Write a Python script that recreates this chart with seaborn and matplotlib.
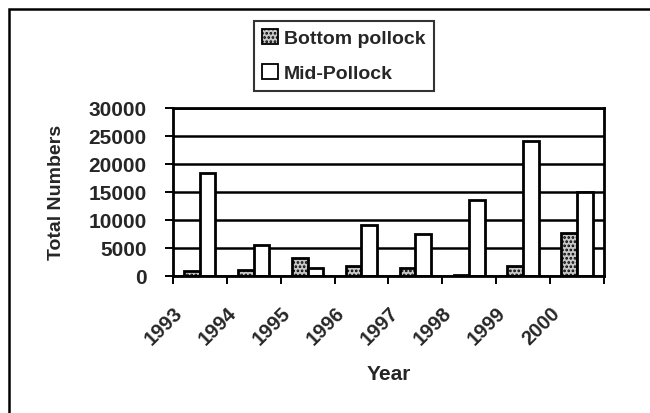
import numpy as np
import pandas as pd
import matplotlib
matplotlib.use("Agg")
import matplotlib.pyplot as plt
from matplotlib.patches import Patch, Rectangle
import seaborn as sns

years = ["1993", "1994", "1995", "1996", "1997", "1998", "1999", "2000"]
bottom_pollock = [900, 1100, 3200, 1700, 1500, 100, 1700, 7600]
mid_pollock = [18400, 5500, 1500, 9100, 7500, 13600, 24000, 14900]
series = ["Bottom pollock", "Mid-Pollock"]
y_ticks = [0, 5000, 10000, 15000, 20000, 25000, 30000]

df = pd.DataFrame({
    "Year": years * 2,
    "Total Numbers": bottom_pollock + mid_pollock,
    "Series": [series[0]] * len(years) + [series[1]] * len(years),
})

sns.set_theme(style="white")
plt.rcParams["font.family"] = ["Liberation Sans", "DejaVu Sans"]
plt.rcParams["font.weight"] = "bold"
plt.rcParams["hatch.linewidth"] = 1.3

fig = plt.figure(figsize=(6.5, 4.14), dpi=100)
ax = fig.add_axes([0.266, 0.331, 0.663, 0.406])

sns.barplot(data=df, x="Year", y="Total Numbers", hue="Series", order=years,
            hue_order=series, palette=["#c8c8c8", "white"], width=0.58,
            edgecolor="black", linewidth=2, legend=False, ax=ax)

# dotted fill for the bottom series
for bar in ax.containers[0]:
    bar.set_hatch("....")

ax.set_ylim(0, 30000)
ax.set_yticks(y_ticks)
ax.set_yticklabels([str(v) for v in y_ticks], fontsize=15, fontweight="bold")
ax.set_xlim(-0.5, len(years) - 0.5)
ax.set_xticks(np.arange(len(years) + 1) - 0.5)
ax.set_xticklabels(years + [""], rotation=45, ha="right", rotation_mode="anchor",
                   fontsize=14.5, fontweight="bold")
ax.tick_params(axis="both", direction="out", length=6, width=1.4, color="black",
               bottom=True, left=True)
ax.tick_params(axis="y", pad=13)
ax.tick_params(axis="x", pad=13)

ax.yaxis.grid(True, color="black", linewidth=1.8)
ax.set_axisbelow(True)
for s in ax.spines.values():
    s.set_visible(True)
    s.set_color("black")
    s.set_linewidth(2)

ax.set_xlabel("Year", fontsize=15, fontweight="bold", labelpad=12)
ax.set_ylabel("Total Numbers", fontsize=14, fontweight="bold", labelpad=17)

handles = [Patch(facecolor="#c8c8c8", edgecolor="black", hatch="....", linewidth=1.3),
           Patch(facecolor="white", edgecolor="black", linewidth=1.3)]
leg = fig.legend(handles, series, loc="upper left", bbox_to_anchor=(0.39, 0.948),
                 frameon=True, fancybox=False, prop={"size": 14, "weight": "bold"},
                 handlelength=0.8, handleheight=0.8, handletextpad=0.3,
                 borderpad=0.45, labelspacing=0.85, borderaxespad=0)
leg.get_frame().set_edgecolor("black")
leg.get_frame().set_linewidth(1.5)

fig.patches.append(Rectangle((0.014, -0.05), 1.1, 1.026, transform=fig.transFigure,
                             fill=False, edgecolor="black", linewidth=1.8))

fig.savefig("out.png", dpi=100)
